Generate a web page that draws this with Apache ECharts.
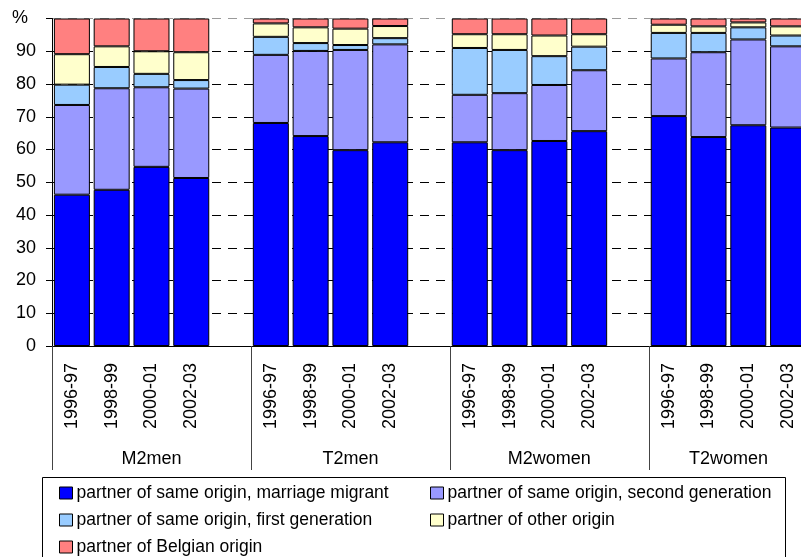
<!DOCTYPE html>
<html>
<head>
<meta charset="utf-8">
<script src="https://cdn.jsdelivr.net/npm/echarts@6/dist/echarts.min.js"></script>
<style>
  html, body { margin: 0; padding: 0; background: #fff; }
  #chart { width: 801px; height: 557px; }
</style>
</head>
<body>
<div id="chart"></div>
<script>
// Partner choice by period and group, shares in % (stacked to 100)
const years = ['1996-97', '1998-99', '2000-01', '2002-03'];
const groups = ['M2men', 'T2men', 'M2women', 'T2women'];
const seriesNames = [
  'partner of same origin, marriage migrant',
  'partner of same origin, second generation',
  'partner of same origin, first generation',
  'partner of other origin',
  'partner of Belgian origin'
];
const seriesColors = ['#0000ff', '#9999ff', '#99ccff', '#ffffcc', '#ff8080'];

// values per bar, in order M2men x4, T2men x4, M2women x4, T2women x4
const marriageMigrant = [46.2, 47.7, 54.7, 51.3, 68.1, 64.1, 59.8, 62.2, 62.2, 59.8, 62.6, 65.6, 70.2, 63.8, 67.4, 66.7];
const secondGeneration = [27.4, 31.0, 24.3, 27.3, 20.8, 26.0, 30.6, 29.9, 14.5, 17.4, 17.1, 18.6, 17.6, 25.9, 26.2, 24.8];
const firstGeneration = [6.2, 6.5, 4.1, 2.6, 5.5, 2.4, 1.5, 1.9, 14.3, 13.2, 8.8, 7.2, 7.8, 5.9, 3.7, 3.3];
const otherOrigin = [9.3, 6.3, 6.9, 8.5, 4.1, 4.8, 5.0, 3.7, 4.2, 4.8, 6.3, 3.8, 2.5, 2.0, 1.5, 2.8];
const belgianOrigin = [10.9, 8.5, 10.0, 10.3, 1.5, 2.7, 3.1, 2.3, 4.8, 4.8, 5.2, 4.8, 1.9, 2.4, 1.2, 2.4];

const yTicks = [0, 10, 20, 30, 40, 50, 60, 70, 80, 90, 100];

const FONT = '"Liberation Sans", Arial, sans-serif';

// slots: four periods per group, with one empty spacer slot between groups
const categories = [];
const groupStarts = [];
const groupEnds = [];
groups.forEach((g, gi) => {
  groupStarts.push(categories.length);
  years.forEach(y => categories.push(y));
  if (gi < groups.length - 1) categories.push('');
  groupEnds.push(categories.length);
});
const slotCount = categories.length;
const groupLabelPos = groupStarts.map((s, i) => (s + groupEnds[i]) / 2);
const groupTickPos = groupStarts.concat([slotCount]);

function withSpacers(values) {
  const out = [];
  groups.forEach((g, gi) => {
    for (let i = 0; i < years.length; i++) out.push(values[gi * years.length + i]);
    if (gi < groups.length - 1) out.push('-');
  });
  return out;
}

const allValues = [marriageMigrant, secondGeneration, firstGeneration, otherOrigin, belgianOrigin];

const series = seriesNames.map((name, i) => ({
  name: name,
  type: 'bar',
  stack: 'total',
  xAxisIndex: 0,
  barWidth: 36,
  data: withSpacers(allValues[i]),
  itemStyle: { color: seriesColors[i], borderColor: '#000', borderWidth: 1 },
  emphasis: { disabled: true }
}));

const gridColors = yTicks.map(v => (v === 100 ? '#9a9a9a' : '#000'));

// legend laid out as two columns, one component per entry
const legendSlots = [
  { left: 59, top: 484 },   // marriage migrant
  { left: 430, top: 484 },  // second generation
  { left: 59, top: 511 },   // first generation
  { left: 430, top: 511 },  // other origin
  { left: 59, top: 538 }    // Belgian origin
];
const legends = seriesNames.map((name, i) => ({
  data: [name],
  left: legendSlots[i].left,
  top: legendSlots[i].top,
  itemWidth: 13,
  itemHeight: 12,
  icon: 'rect',
  selectedMode: false,
  padding: 0,
  textStyle: { fontSize: 17.5, fontFamily: FONT, color: '#000', padding: [0, 0, 0, -1] },
  itemStyle: { borderColor: '#000', borderWidth: 1 }
}));

const chart = echarts.init(document.getElementById('chart'), null, { renderer: 'canvas' });
chart.setOption({
  animation: false,
  backgroundColor: '#fff',
  grid: { left: 52, top: 18.5, right: -7, height: 327.5, containLabel: false, outerBoundsMode: 'none' },
  xAxis: [
    {
      type: 'category',
      data: categories,
      position: 'bottom',
      axisLine: { show: true, lineStyle: { color: '#000', width: 1 } },
      axisTick: { show: false },
      axisLabel: { interval: 0, rotate: 90, margin: 17, fontSize: 18, fontFamily: FONT, color: '#000' }
    },
    {
      // group separators and group names, measured in slot units
      type: 'value',
      min: 0,
      max: slotCount,
      position: 'bottom',
      offset: 0,
      axisLine: { show: false },
      splitLine: { show: false },
      axisTick: {
        show: true, length: 124, customValues: groupTickPos,
        lineStyle: { color: '#444', width: 1 }
      },
      axisLabel: {
        margin: 104, fontSize: 18, fontFamily: FONT, color: '#000',
        customValues: groupLabelPos,
        formatter: v => groups[groupLabelPos.indexOf(v)] || ''
      }
    }
  ],
  yAxis: {
    type: 'value',
    min: yTicks[0],
    max: yTicks[yTicks.length - 1],
    interval: 10,
    axisLine: { show: true, lineStyle: { color: '#000', width: 1 } },
    axisTick: { show: true, length: 6, lineStyle: { color: '#000' } },
    axisLabel: {
      margin: 16, fontSize: 18, fontFamily: FONT, color: '#000',
      formatter: v => (v === 100 ? '' : String(v))
    },
    splitLine: { show: true, lineStyle: { color: gridColors, type: [9, 7], width: 1 } }
  },
  legend: legends,
  graphic: [
    {
      type: 'rect',
      z: -1,
      shape: { x: 42.5, y: 477.5, width: 743, height: 90 },
      style: { fill: '#fff', stroke: '#000', lineWidth: 1 }
    },
    {
      type: 'text',
      left: 12,
      top: 9,
      style: { text: '%', fontSize: 18, fontFamily: FONT, fill: '#000' }
    }
  ],
  series: series
});
</script>
</body>
</html>
